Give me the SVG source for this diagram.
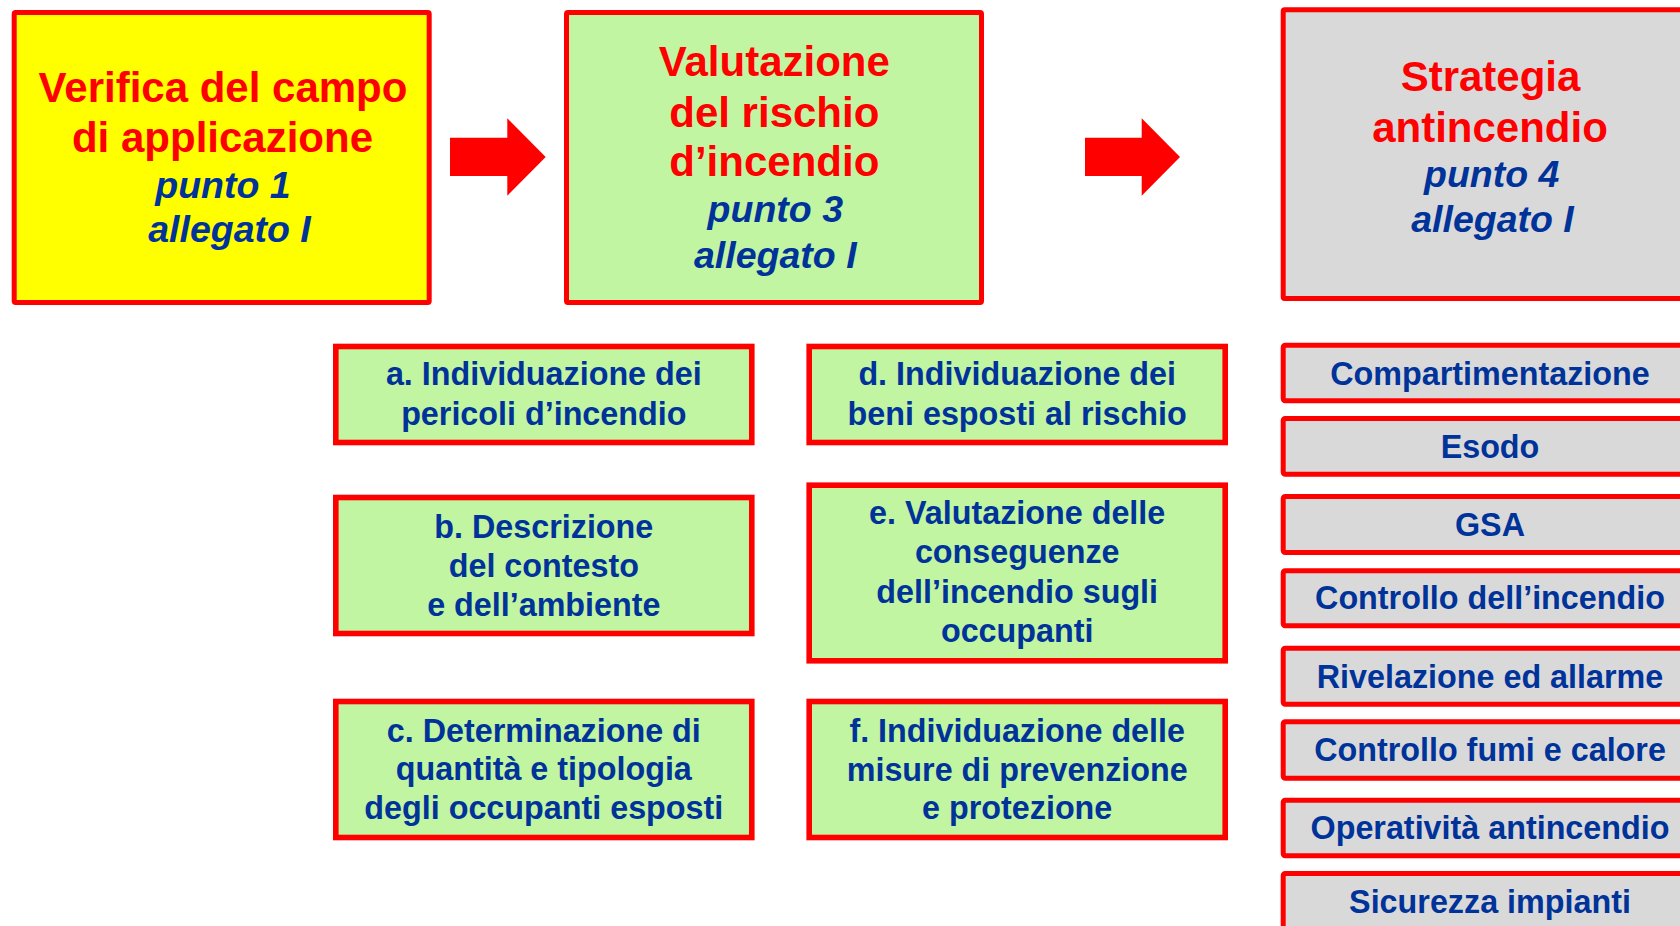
<svg xmlns="http://www.w3.org/2000/svg" width="1680" height="926" viewBox="0 0 1680 926">
<style>
.box{stroke:#FF0000;stroke-width:5}
.sbox{stroke:#FF0000;stroke-width:5.6}
.yel{fill:#FFFF00}
.grn{fill:#C2F5A2}
.gry{fill:#D9D9D9}
.ttl{font-family:"Liberation Sans",Arial,sans-serif;font-weight:bold;font-size:42px;fill:#FF0000;text-anchor:middle}
.ref{font-family:"Liberation Sans",Arial,sans-serif;font-weight:bold;font-style:italic;font-size:37.5px;fill:#003399;text-anchor:middle}
.lbl{font-family:"Liberation Sans",Arial,sans-serif;font-weight:bold;font-size:32.3px;fill:#003399;text-anchor:middle}
.arr{fill:#FF0000}
</style>
<rect width="1680" height="926" fill="#FFFFFF"/>

<g id="connectors">
<polygon class="arr" points="450,137.7 507.3,137.7 507.3,118.3 545.7,157 507.3,195.7 507.3,176 450,176"/>
<polygon class="arr" points="1085,137.7 1141.7,137.7 1141.7,118.3 1180,157 1141.7,195.7 1141.7,176 1085,176"/>
</g>

<g id="verifica">
<rect class="box yel" x="14.2" y="12.5" width="415" height="290" rx="1.5"/>
<text class="ttl" x="223" y="101.7">Verifica del campo</text>
<text class="ttl" x="222.5" y="151.7">di applicazione</text>
<text class="ref" x="223" y="198.3">punto 1</text>
<text class="ref" x="229.5" y="241.7">allegato I</text>
</g>

<g id="valutazione">
<rect class="box grn" x="566.5" y="12.5" width="415" height="290" rx="1.5"/>
<text class="ttl" x="774.3" y="76">Valutazione</text>
<text class="ttl" x="774.3" y="126.7">del rischio</text>
<text class="ttl" x="774.3" y="176">d’incendio</text>
<text class="ref" x="775.3" y="221.7">punto 3</text>
<text class="ref" x="775.3" y="268.3">allegato I</text>
</g>

<g id="strategia">
<rect class="box gry" x="1283.2" y="9.8" width="415" height="288.7" rx="1.5"/>
<text class="ttl" x="1490.5" y="90.7">Strategia</text>
<text class="ttl" x="1490" y="141.7">antincendio</text>
<text class="ref" x="1491.7" y="186.7">punto 4</text>
<text class="ref" x="1492.5" y="231.7">allegato I</text>
</g>

<g id="step-a">
<rect class="sbox grn" x="335.8" y="346.5" width="416" height="96"/>
<text class="lbl" x="543.8" y="385">a. Individuazione dei</text>
<text class="lbl" x="543.8" y="425">pericoli d’incendio</text>
</g>

<g id="step-b">
<rect class="sbox grn" x="335.8" y="497.5" width="416" height="136"/>
<text class="lbl" x="543.8" y="538.3">b. Descrizione</text>
<text class="lbl" x="543.8" y="577.3">del contesto</text>
<text class="lbl" x="543.8" y="616">e dell’ambiente</text>
</g>

<g id="step-c">
<rect class="sbox grn" x="335.8" y="701.5" width="416" height="136"/>
<text class="lbl" x="543.8" y="741.7">c. Determinazione di</text>
<text class="lbl" x="543.8" y="780">quantità e tipologia</text>
<text class="lbl" x="543.8" y="819.3">degli occupanti esposti</text>
</g>

<g id="step-d">
<rect class="sbox grn" x="809.2" y="346.5" width="416" height="96"/>
<text class="lbl" x="1017.2" y="385">d. Individuazione dei</text>
<text class="lbl" x="1017.2" y="425">beni esposti al rischio</text>
</g>

<g id="step-e">
<rect class="sbox grn" x="809.2" y="485.2" width="416" height="175.6"/>
<text class="lbl" x="1017.2" y="524">e. Valutazione delle</text>
<text class="lbl" x="1017.2" y="563.3">conseguenze</text>
<text class="lbl" x="1017.2" y="603.3">dell’incendio sugli</text>
<text class="lbl" x="1017.2" y="642.3">occupanti</text>
</g>

<g id="step-f">
<rect class="sbox grn" x="809.2" y="701.5" width="416" height="136"/>
<text class="lbl" x="1017.2" y="741.7">f. Individuazione delle</text>
<text class="lbl" x="1017.2" y="780.7">misure di prevenzione</text>
<text class="lbl" x="1017.2" y="819.3">e protezione</text>
</g>

<g id="m-compartimentazione">
<rect class="box gry" x="1283.2" y="345.2" width="415" height="55.6" rx="2"/>
<text class="lbl" x="1490" y="385">Compartimentazione</text>
</g>
<g id="m-esodo">
<rect class="box gry" x="1283.2" y="418.5" width="415" height="55.7" rx="2"/>
<text class="lbl" x="1490" y="457.7">Esodo</text>
</g>
<g id="m-gsa">
<rect class="box gry" x="1283.2" y="496.5" width="415" height="56" rx="2"/>
<text class="lbl" x="1490" y="536">GSA</text>
</g>
<g id="m-controllo-incendio">
<rect class="box gry" x="1283.2" y="570.8" width="415" height="55" rx="2"/>
<text class="lbl" x="1490" y="609.3">Controllo dell’incendio</text>
</g>
<g id="m-rivelazione">
<rect class="box gry" x="1283.2" y="648.2" width="415" height="56" rx="2"/>
<text class="lbl" x="1490" y="688.3">Rivelazione ed allarme</text>
</g>
<g id="m-fumi">
<rect class="box gry" x="1283.2" y="721.8" width="415" height="56.4" rx="2"/>
<text class="lbl" x="1490" y="760.7">Controllo fumi e calore</text>
</g>
<g id="m-operativita">
<rect class="box gry" x="1283.2" y="800.2" width="415" height="55.6" rx="2"/>
<text class="lbl" x="1490" y="839.3">Operatività antincendio</text>
</g>
<g id="m-sicurezza">
<rect class="box gry" x="1283.2" y="873.5" width="415" height="56" rx="2"/>
<text class="lbl" x="1490" y="913.3">Sicurezza impianti</text>
</g>
</svg>
